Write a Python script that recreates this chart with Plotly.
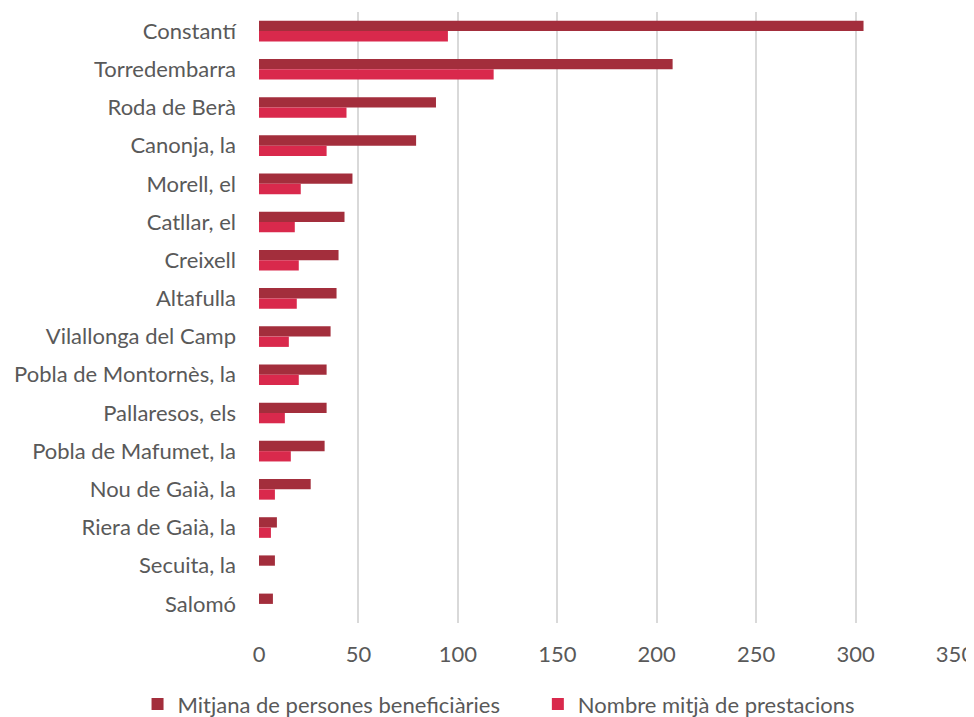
import plotly.graph_objects as go

categories = ["Constantí", "Torredembarra", "Roda de Berà", "Canonja, la", "Morell, el",
              "Catllar, el", "Creixell", "Altafulla", "Vilallonga del Camp",
              "Pobla de Montornès, la", "Pallaresos, els", "Pobla de Mafumet, la",
              "Nou de Gaià, la", "Riera de Gaià, la", "Secuita, la", "Salomó"]
beneficiaries = [304, 208, 89, 79, 47, 43, 40, 39, 36, 34, 34, 33, 26, 9, 8, 7]
prestacions = [95, 118, 44, 34, 21, 18, 20, 19, 15, 20, 13, 16, 8, 6, 0, 0]
series_names = ["Mitjana de persones beneficiàries", "Nombre mitjà de prestacions"]
x_ticks = [0, 50, 100, 150, 200, 250, 300, 350]

FONT = "Lato"
TXT = "#595959"
FS = 22

fig = go.Figure()
fig.add_trace(go.Bar(y=categories, x=beneficiaries, orientation="h", name=series_names[0],
                     marker=dict(color="#A32E3C", line=dict(width=0)), legend="legend"))
fig.add_trace(go.Bar(y=categories, x=prestacions, orientation="h", name=series_names[1],
                     marker=dict(color="#D9294C", line=dict(width=0)), legend="legend2"))

leg_common = dict(orientation="h", xref="container", yref="container",
                  xanchor="left", y=0.029, yanchor="middle",
                  font=dict(family=FONT, size=FS, color=TXT), itemwidth=30,
                  bgcolor="rgba(0,0,0,0)")

fig.update_layout(
    width=974, height=717,
    margin=dict(l=251, r=27, t=4, b=102, autoexpand=False),
    paper_bgcolor="white", plot_bgcolor="white",
    barmode="group", bargap=0.46, bargroupgap=0,
    font=dict(family=FONT, size=FS, color=TXT),
    legend=dict(x=0.133, **leg_common),
    legend2=dict(x=0.544, **leg_common),
    showlegend=True,
)
fig.update_xaxes(range=[0, 350], tickvals=x_ticks, showgrid=True, gridcolor="#D9D9D9",
                 gridwidth=1.5, zeroline=False, showline=False,
                 tickfont=dict(family=FONT, size=FS, color=TXT), ticklabelstandoff=16)
fig.update_yaxes(autorange="reversed", showgrid=False, showline=False, zeroline=False,
                 tickfont=dict(family=FONT, size=FS, color=TXT), ticklabelstandoff=22,
                 ticks="")

fig.write_html("out.html")
